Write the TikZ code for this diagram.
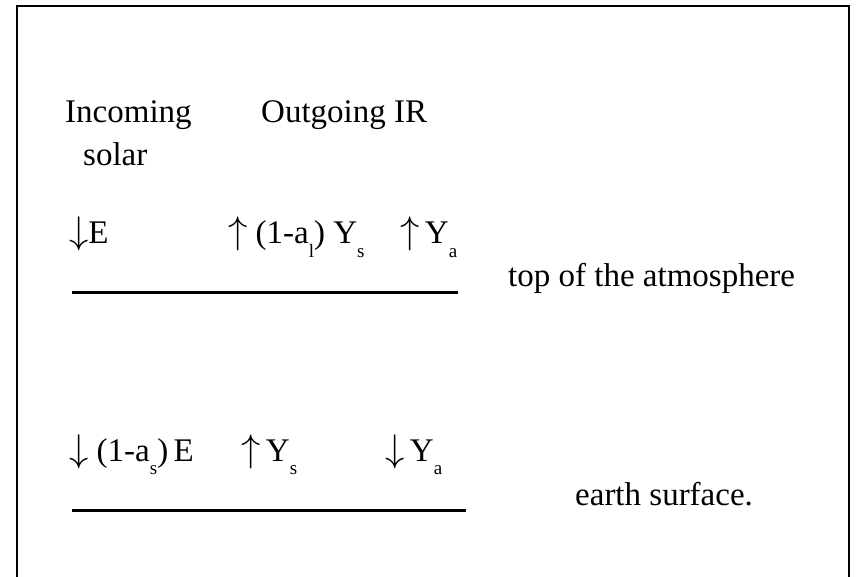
\documentclass[tikz,border=0pt]{standalone}
\usepackage{fontspec}
\setmainfont{Liberation Serif}
\usetikzlibrary{positioning}

\newcommand{\lowidx}[1]{\raisebox{-0.42em}{\fontsize{19}{19}\selectfont #1}}
\newcommand{\upar}{\scalebox{1.55}{$\uparrow$}}
\newcommand{\dnar}{\scalebox{1.55}{$\downarrow$}}

\tikzset{
  lbl/.style={anchor=base west, inner sep=0pt, font=\fontsize{33}{40}\selectfont},
  surface/.style={line width=3pt},
  frame/.style={line width=2pt}
}

\begin{document}
\begin{tikzpicture}[x=1pt, y=-1pt]
  \useasboundingbox (0,0) rectangle (857,577);

  %% Open frame
  \draw[frame] (17,577) -- (17,6) -- (849,6) -- (849,577);

  %% Column headings
  \node[lbl] (hin)  at (65,123)  {Incoming};
  \node[lbl] (hsol) at (83,166)  {solar};
  \node[lbl] (hout) at (261,123) {Outgoing IR};

  %% Top of the atmosphere
  \node[lbl] (tE)   at (69,244)  {\dnar E};
  \node[lbl] (tYs)  at (228,244) {\upar\ (1-a\lowidx{l})\ Y\lowidx{s}};
  \node[lbl] (tYa)  at (400,244) {\upar\,Y\lowidx{a}};
  \draw[surface] (72,293) -- (458,293);
  \node[lbl] (ttop) at (508,287) {top of the atmosphere};

  %% Earth surface
  \node[lbl] (sE)   at (69,461)  {\dnar\ (1-a\lowidx{s})\,E};
  \node[lbl] (sYs)  at (241,461) {\upar\,Y\lowidx{s}};
  \node[lbl] (sYa)  at (385,461) {\dnar\,Y\lowidx{a}};
  \draw[surface] (72,510) -- (466,510);
  \node[lbl] (tsfc) at (575,505) {earth surface.};
\end{tikzpicture}
\end{document}
